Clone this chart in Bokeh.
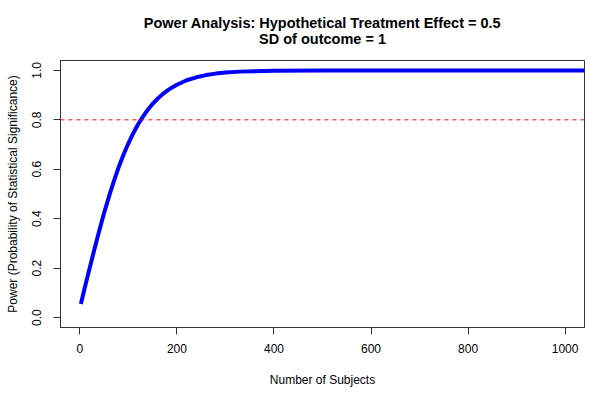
from bokeh.plotting import figure
from bokeh.models import Range1d, Span, FixedTicker, LinearAxis
from bokeh.embed import file_html
from bokeh.resources import INLINE

# Values
subjects = [2, 10, 20, 30, 40, 50, 60, 70, 80, 90, 100, 110, 120, 130, 140, 150,
            160, 170, 180, 190, 200, 220, 240, 260, 280, 300, 330, 360, 400, 500,
            700, 1040]
power = [0.055, 0.121, 0.200, 0.277, 0.352, 0.424, 0.490, 0.552, 0.609, 0.660,
         0.705, 0.746, 0.782, 0.813, 0.841, 0.865, 0.885, 0.903, 0.918, 0.931,
         0.942, 0.960, 0.972, 0.981, 0.987, 0.991, 0.995, 0.997, 0.999, 1.0,
         1.0, 1.0]
target_power = 0.8
x_ticks = [0, 200, 400, 600, 800, 1000]
y_ticks = [0.0, 0.2, 0.4, 0.6, 0.8, 1.0]
y_tick_labels = {0.0: "0.0", 0.2: "0.2", 0.4: "0.4", 0.6: "0.6", 0.8: "0.8", 1.0: "1.0"}
title_lines = ["Power Analysis: Hypothetical Treatment Effect = 0.5", "SD of outcome = 1"]

FONT = "Liberation Sans"

p = figure(width=601, height=398, output_backend="svg", toolbar_location=None,
           x_range=Range1d(-40, 1040), y_range=Range1d(-0.04, 1.04),
           min_border_left=60, min_border_right=17, min_border_top=60,
           min_border_bottom=71)
p.background_fill_color = "white"
p.border_fill_color = "white"
p.outline_line_color = "#333333"
p.outline_line_width = 1
p.grid.visible = False

p.line(subjects, power, line_color="#0000FF", line_width=4)
p.add_layout(Span(location=target_power, dimension="width", line_color="#FF0000",
                  line_width=1, line_dash="4 4"))

for ax in (p.xaxis[0], p.yaxis[0]):
    ax.axis_line_color = "#333333"
    ax.major_tick_line_color = "#333333"
    ax.major_tick_out = 7
    ax.major_tick_in = 0
    ax.minor_tick_line_color = None
    ax.major_label_text_font = FONT
    ax.major_label_text_font_size = "12px"
    ax.major_label_text_color = "black"
    ax.axis_label_text_font = FONT
    ax.axis_label_text_font_size = "12px"
    ax.axis_label_text_font_style = "normal"
    ax.axis_label_text_color = "black"

p.xaxis.ticker = FixedTicker(ticks=x_ticks)
p.yaxis.ticker = FixedTicker(ticks=y_ticks)
p.yaxis.major_label_overrides = y_tick_labels
p.yaxis.major_label_orientation = "vertical"
p.xaxis.axis_label = "Number of Subjects"
p.yaxis.axis_label = "Power (Probability of Statistical Significance)"
p.xaxis.major_label_standoff = 9
p.xaxis.axis_label_standoff = 17
p.yaxis.major_label_standoff = 12
p.yaxis.axis_label_standoff = 10

# Two title lines: empty axes above the frame carrying them as their labels
# (the first added sits closest to the frame)
for line_text, standoff in zip(reversed(title_lines), [14, -3]):
    title_axis = LinearAxis(ticker=FixedTicker(ticks=[]), axis_label=line_text,
                            axis_line_color=None, major_tick_line_color=None,
                            minor_tick_line_color=None, major_tick_out=0,
                            major_tick_in=0, major_label_standoff=0,
                            major_label_text_font_size="0px",
                            axis_label_standoff=standoff,
                            axis_label_text_font=FONT,
                            axis_label_text_font_size="14.5px",
                            axis_label_text_font_style="bold",
                            axis_label_text_color="black")
    p.add_layout(title_axis, "above")

open("out.html", "w").write(file_html(p, INLINE))
